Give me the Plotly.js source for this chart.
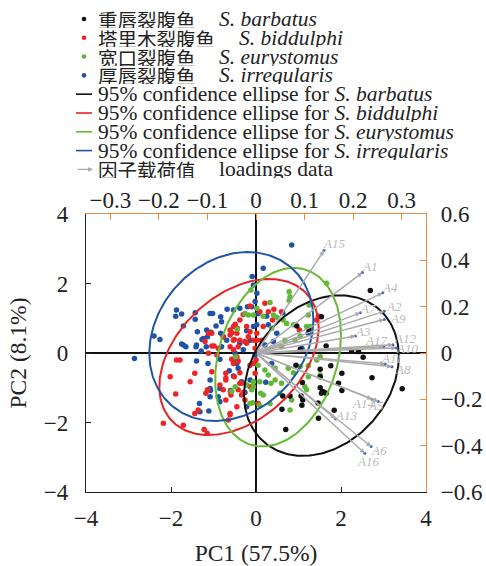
<!DOCTYPE html>
<html><head><meta charset="utf-8">
<script src="https://cdn.plot.ly/plotly-3.0.1.min.js"></script>
<style>html,body{margin:0;padding:0;background:#fff}#chart{width:486px;height:566px}</style>
</head><body><div id="chart"></div>
<script>
// ---------- DATA ----------
const barbatusX = [0.96,1.65,2.25,2.41,2.52,0.94,1.51,1.76,2.02,1.09,1.51,1.94,1.51,1.57,1.60,1.54,1.65,2.02,2.73,3.44,0.63,0.80,1.06,1.10,1.08,1.46,0.61,1.84,1.47,0.70,2.69,1.54,1.25,1.04];
const barbatusY = [0.78,0.20,0.07,0.04,-0.12,-0.35,-0.47,-0.37,-0.58,-0.85,-0.68,-0.87,-1.00,-1.11,-1.14,-1.16,-1.16,-1.08,-0.71,-1.03,-1.24,-1.24,-1.24,-1.35,-1.50,-1.44,-1.62,-1.65,-1.88,-2.20,1.80,1.04,0.66,0.11];

const biddulphiX = [-1.12,-1.04,-1.20,-1.04,-0.77,-0.61,-0.53,-0.57,-0.45,-0.51,-0.38,-0.42,-0.22,-0.18,-0.06,-0.14,-0.22,-1.87,-1.79,-2.02,-1.44,-1.55,-1.89,-1.18,-1.14,-1.36,-1.44,-1.71,-2.18,-1.22,-1.15,-0.71,-0.71,-0.51,-0.85,-0.60,-0.71,-0.61,-0.65,-0.45,-0.34,-0.26,-0.53,-0.45,-0.06,-0.14,0.05,-0.14,-0.30,-0.38,-0.49,-0.44,-0.61,-0.53,-0.26,0.02,-0.61,-0.99,-0.89,-0.53,-1.04,-0.71,-0.77,-0.59,-0.61,-0.38,-0.34,-0.42,-0.30,-0.38,-0.02,-0.14,-0.42,-0.57,-0.92,-1.12,0.21,0.42,0.09,0.29,0.39,0.17,0.02,0.13,1.02,1.43,1.47,0.60,-0.02,0.00];
const biddulphiY = [0.57,0.57,0.33,0.20,0.47,0.52,0.76,0.58,0.57,0.39,0.37,0.18,0.28,0.47,0.37,0.61,0.76,-0.20,-0.20,-0.68,-0.58,-0.83,-1.18,-1.16,-1.06,-1.64,-1.74,-2.08,-2.02,-2.20,-2.31,-0.58,-0.73,-0.68,-0.92,-1.11,-1.35,-1.74,-1.93,-1.55,-1.21,-1.35,-0.30,-0.11,-0.30,-0.97,-1.45,1.35,1.11,0.95,0.83,0.71,0.66,0.37,0.33,0.37,0.18,0.20,0.14,0.09,-0.54,-0.78,-1.06,-1.21,-1.78,-0.87,-0.87,-1.06,-1.14,-0.57,-0.58,-0.35,-0.23,-0.18,-0.06,-0.01,1.43,1.26,1.19,1.19,0.95,0.76,0.57,0.37,0.66,0.95,1.06,1.19,0.14,-0.20];

const eurystomusX = [-0.12,0.02,-0.26,-0.18,-0.06,-0.48,-0.57,-0.49,-0.22,-0.06,-0.14,-0.08,-0.44,0.33,0.78,0.80,0.78,1.66,0.64,0.49,0.72,0.37,0.88,1.25,1.23,1.04,0.92,1.19,0.17,0.41,0.68,0.60,0.05,0.21,0.45,0.76,1.04,1.23,0.88,0.29,0.09,0.35,0.45,0.60,-0.06,0.11,0.17,0.84,1.19,1.15,0.08,0.33,0.56,0.80,1.43,1.51,1.51,1.23,-0.10,1.27];
const eurystomusY = [1.81,1.29,1.14,1.09,1.09,-0.11,-1.11,-0.97,-0.92,-0.83,-1.45,-1.43,0.68,1.45,1.76,1.62,1.51,2.01,0.95,1.03,0.85,0.71,0.81,1.38,1.09,0.49,0.37,0.76,1.06,1.09,0.37,0.18,-0.35,-0.49,-0.44,-0.44,-0.39,-0.37,-0.57,-0.63,-0.83,-0.87,-0.78,-0.87,-0.97,-1.16,-1.21,-1.35,-1.06,-0.97,-1.50,-1.45,-1.16,-1.64,-0.20,-0.11,-0.63,-0.68,-1.06,0.76];

const irregularisX = [-2.40,-2.26,-2.86,-1.87,-1.89,-1.75,-1.71,-1.43,-1.43,-1.75,-1.65,-1.41,-1.40,-1.29,-1.17,-1.27,-1.14,-1.06,-1.08,-1.02,-0.83,-0.94,-0.68,-0.53,-0.38,-0.83,-0.77,-0.69,-0.81,-0.49,-0.30,-0.45,-0.45,-1.08,-1.08,-1.07,-1.33,-1.11,-1.32,-1.13,-0.09,0.02,-1.38,-1.24,-1.40,-1.71,-1.16,-0.14,-0.22,-0.06,-0.38,-0.85,-0.63,-0.42,-1.08,-0.89,-0.85,-0.85,-0.60,-0.34,-0.26,-0.14,-0.22,-0.53,-0.02,0.84,0.17,-0.06,-0.02,-0.10,0.05,0.25,0.29,0.02,0.63,0.49,1.23,1.08,0.41,0.21,0.23,0.37,-0.20,-0.81];
const irregularisY = [0.49,0.39,-0.16,1.24,1.06,1.12,0.78,1.16,0.97,0.26,0.18,0.18,-0.23,0.06,0.18,0.39,0.47,0.60,1.14,1.14,1.04,0.78,1.26,1.24,1.29,0.57,0.47,0.37,0.18,-0.01,0.09,-0.20,-0.30,-0.78,-1.02,-1.08,-1.45,-1.67,-1.69,-0.30,2.20,1.72,0.61,0.42,0.23,0.23,0.66,0.37,0.64,0.76,0.28,-0.18,-0.51,-0.44,-1.26,-1.26,-1.40,-1.02,-1.08,-0.83,-1.14,-0.78,-1.55,-0.66,-0.06,3.11,2.44,1.96,1.48,1.33,1.14,1.06,0.81,0.81,1.16,0.57,0.57,0.14,0.33,0.23,-0.84,-0.30,1.33,0.90];

// 95% confidence ellipses: centre, half-extent in x and y, correlation (order: barbatus, biddulphi, eurystomus, irregularis)
const ellipseCx  = [1.54, -0.40, 0.52, -0.58];
const ellipseCy  = [-0.65, -0.115, -0.12, 0.475];
const ellipseSx  = [1.82, 1.875, 1.48, 1.93];
const ellipseSy  = [2.31, 2.245, 2.57, 2.43];
const ellipseRho = [0.24, 0.38, 0.25, 0.20];

// loadings (top / right axes)
const loadingNames = ['A1','A2','A3','A4','A5','A6','A7','A8','A9','A10','A11','A12','A13','A14','A15','A16','A17'];
const loadingPC1 = [0.219,0.264,0.205,0.261,0.252,0.237,0.215,0.280,0.264,0.289,0.266,0.282,0.164,0.239,0.140,0.224,0.263];
const loadingPC2 = [0.347,0.180,0.073,0.260,-0.209,-0.404,0.174,-0.059,0.145,0.022,-0.047,0.036,-0.285,-0.200,0.442,-0.433,0.027];

const speciesCN = ['重唇裂腹鱼','塔里木裂腹鱼','宽口裂腹鱼','厚唇裂腹鱼'];
const speciesLatin = ['S. barbatus','S. biddulphi','S. eurystomus','S. irregularis'];

// ---------- STYLE ----------
const dotColors = ['#111111','#ee2424','#62b836','#1f52a8'];
const lineColors = ['#111111','#e82222','#66bb33','#1f55a6'];
const orange = '#f08a3c';
const serif = 'Liberation Serif';
const cjk = 'Noto Sans CJK SC';
// label offsets in px (x, y up) for loading labels
const labelShift = {A1:[7,6],A2:[10,5],A3:[7,5],A4:[7,5],A5:[-2,-4],A6:[8,-4],A7:[8,4],A8:[11,-3],A9:[14,1],A10:[11,-1],A11:[6,5],A12:[12,6],A13:[10,4],A14:[-9,-4],A15:[10,7],A16:[3,-8],A17:[-8,6]};

const L=86,R=426,T=214,B=492;
const px = v => (v-L)/(R-L);
const py = v => (B-v)/(B-T);

function ellipse(cx,cy,sx,sy,rho){
  const xs=[],ys=[];
  const s=Math.sqrt(1-rho*rho);
  for(let i=0;i<=240;i++){
    const t=2*Math.PI*i/240;
    xs.push(cx+sx*Math.cos(t));
    ys.push(cy+sy*(rho*Math.cos(t)+s*Math.sin(t)));
  }
  return {xs,ys};
}

const sX=[barbatusX,biddulphiX,eurystomusX,irregularisX];
const sY=[barbatusY,biddulphiY,eurystomusY,irregularisY];
const traces=[];
[3,1,2,0].forEach(i=>{
  traces.push({type:'scatter',mode:'markers',x:sX[i],y:sY[i],xaxis:'x',yaxis:'y',
    marker:{size:5.5,color:dotColors[i]},showlegend:false,hoverinfo:'skip'});
});
[0,1,2,3].forEach(i=>{
  const e=ellipse(ellipseCx[i],ellipseCy[i],ellipseSx[i],ellipseSy[i],ellipseRho[i]);
  traces.push({type:'scatter',mode:'lines',x:e.xs,y:e.ys,xaxis:'x',yaxis:'y',
    line:{color:lineColors[i],width:2},showlegend:false,hoverinfo:'skip'});
});
traces.push({type:'scatter',mode:'markers',x:loadingPC1,y:loadingPC2,xaxis:'x2',yaxis:'y2',
  marker:{size:3,color:'#3a66c4'},showlegend:false,hoverinfo:'skip'});

const annotations=[], shapes=[];
loadingNames.forEach((n,i)=>{
  annotations.push({x:loadingPC1[i],y:loadingPC2[i],xref:'x2',yref:'y2',ax:0,ay:0,axref:'x2',ayref:'y2',
    text:'',showarrow:true,arrowhead:2,arrowsize:0.7,arrowwidth:1.4,arrowcolor:'#a9a9a9',standoff:0});
  annotations.push({x:loadingPC1[i],y:loadingPC2[i],xref:'x2',yref:'y2',showarrow:false,
    text:'<i>'+n+'</i>',xshift:labelShift[n][0],yshift:labelShift[n][1],
    font:{family:serif,size:13,color:'#bcbcbc'}});
});

// manual legend
const rowY = i => 19 + 18.8*i;
const cnEnd = [217,237,217,217];
for(let i=0;i<4;i++){
  const y=rowY(i);
  shapes.push({type:'circle',xref:'paper',yref:'paper',x0:px(84-2.3),x1:px(84+2.3),y0:py(y+2.3),y1:py(y-2.3),
    fillcolor:dotColors[i],line:{width:0}});
  annotations.push({xref:'paper',yref:'paper',x:px(96),y:py(y),xanchor:'left',yanchor:'middle',showarrow:false,
    text:speciesCN[i],height:18,font:{family:cjk,size:19.5,color:'#222'}});
  annotations.push({xref:'paper',yref:'paper',x:px(cnEnd[i]),y:py(y),xanchor:'left',yanchor:'middle',showarrow:false,
    text:'<i>'+speciesLatin[i]+'</i>',height:18,font:{family:serif,size:21.5,color:'#222'}});
}
for(let i=0;i<4;i++){
  const y=rowY(4+i);
  shapes.push({type:'line',xref:'paper',yref:'paper',x0:px(76),x1:px(92),y0:py(y),y1:py(y),
    line:{color:lineColors[i],width:1.6}});
  annotations.push({xref:'paper',yref:'paper',x:px(96),y:py(y),xanchor:'left',yanchor:'middle',showarrow:false,
    text:'95% confidence ellipse for <i>'+speciesLatin[i]+'</i>',height:18,font:{family:serif,size:21.5,color:'#222'}});
}
{
  const y=rowY(8);
  annotations.push({xref:'paper',yref:'paper',x:px(93),y:py(y),ax:-17,ay:0,text:'',showarrow:true,
    arrowhead:2,arrowsize:0.7,arrowwidth:1.4,arrowcolor:'#a9a9a9',standoff:0});
  annotations.push({xref:'paper',yref:'paper',x:px(96),y:py(y),xanchor:'left',yanchor:'middle',showarrow:false,
    text:'因子载荷值',height:18,font:{family:cjk,size:19.5,color:'#222'}});
  annotations.push({xref:'paper',yref:'paper',x:px(217),y:py(y),xanchor:'left',yanchor:'middle',showarrow:false,
    text:'loadings data',height:18,font:{family:serif,size:21.5,color:'#222'}});
}

const tickFont={family:serif,size:23,color:'#222'};
const layout={
  width:486,height:566,margin:{l:L,r:486-R,t:T,b:566-B,pad:0},
  paper_bgcolor:'#fff',plot_bgcolor:'#fff',showlegend:false,
  xaxis:{range:[-4,4],dtick:2,tick0:0,ticks:'inside',ticklen:5,tickcolor:'#222',showline:true,linecolor:'#222',linewidth:1.2,
    zeroline:true,zerolinecolor:'#111',zerolinewidth:1.5,showgrid:false,tickfont:tickFont,ticklabelstandoff:5,
    title:{text:'PC1 (57.5%)',font:{family:serif,size:23.5,color:'#222'},standoff:15}},
  yaxis:{range:[-4,4],dtick:2,tick0:0,ticks:'inside',ticklen:5,tickcolor:'#222',showline:true,linecolor:'#222',linewidth:1.2,
    zeroline:true,zerolinecolor:'#111',zerolinewidth:1.5,showgrid:false,tickfont:tickFont,ticklabelstandoff:12,
    title:{text:'PC2 (8.1%)',font:{family:serif,size:23.5,color:'#222'},standoff:10}},
  xaxis2:{overlaying:'x',side:'top',anchor:'y',range:[-0.35,0.35],dtick:0.1,tick0:0,ticks:'inside',ticklen:6,tickcolor:orange,
    showline:true,linecolor:orange,linewidth:1.2,zeroline:false,showgrid:false,tickfont:tickFont,ticklabelstandoff:-4},
  yaxis2:{overlaying:'y',side:'right',anchor:'x',range:[-0.6,0.6],dtick:0.2,tick0:0,ticks:'inside',ticklen:6,tickcolor:orange,
    showline:true,linecolor:orange,linewidth:1.2,zeroline:false,showgrid:false,tickfont:tickFont,ticklabelstandoff:9},
  annotations:annotations,shapes:shapes
};
Plotly.newPlot('chart',traces,layout,{staticPlot:true,displayModeBar:false});
</script></body></html>
